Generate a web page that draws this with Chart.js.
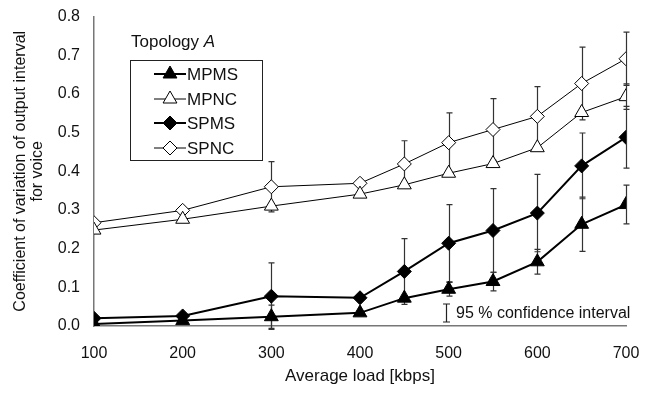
<!DOCTYPE html>
<html>
<head>
<meta charset="utf-8">
<script src="https://cdn.jsdelivr.net/npm/chart.js@4.4.0/dist/chart.umd.min.js"></script>
<style>
  html, body { margin: 0; padding: 0; background: #fff; }
  #wrap { width: 651px; height: 393px; }
</style>
</head>
<body>
<div id="wrap"><canvas id="chart" width="651" height="393"></canvas></div>
<script>
// Tải trung bình (kbps)
const loads = [100, 200, 300, 400, 450, 500, 550, 600, 650, 700];

// Hệ số biến thiên cho từng cấu hình
const mpms = [0.005, 0.014, 0.024, 0.034, 0.072, 0.095, 0.115, 0.166, 0.263, 0.314];
const mpnc = [0.248, 0.276, 0.310, 0.341, 0.365, 0.395, 0.420, 0.461, 0.552, 0.593];
const spms = [0.020, 0.026, 0.077, 0.073, 0.141, 0.214, 0.247, 0.292, 0.414, 0.488];
const spnc = [0.267, 0.299, 0.360, 0.369, 0.419, 0.474, 0.508, 0.542, 0.627, 0.691];

// Nửa khoảng tin cậy 95 %
const mpmsErr = [0, 0, 0.03, 0, 0, 0.018, 0.024, 0.032, 0.07, 0.05];
const mpncErr = [0, 0, 0, 0, 0, 0, 0, 0, 0, 0.033];
const spmsErr = [0, 0, 0.086, 0, 0.085, 0.10, 0.108, 0.10, 0.085, 0.08];
const spncErr = [0, 0, 0.065, 0, 0.06, 0.077, 0.08, 0.077, 0.094, 0.069];

const yTicks = [0, 0.1, 0.2, 0.3, 0.4, 0.5, 0.6, 0.7, 0.8];

const FONT = "'Liberation Sans', Arial, sans-serif";

function toPoints(values) {
    return loads.map((x, i) => ({ x: x, y: values[i] }));
}

// Vẽ thanh sai số trước khi vẽ các điểm
const errorBars = {
    id: 'errorBars',
    beforeDatasetsDraw(chart) {
        const ctx = chart.ctx;
        const xs = chart.scales.x, ys = chart.scales.y;
        ctx.save();
        ctx.strokeStyle = '#333';
        ctx.lineWidth = 1.2;
        chart.data.datasets.forEach(ds => {
            ds.errors.forEach((e, i) => {
                if (!e) return;
                const px = Math.round(xs.getPixelForValue(loads[i])) + 0.5;
                const top = ys.getPixelForValue(ds.data[i].y + e);
                const bot = ys.getPixelForValue(ds.data[i].y - e);
                ctx.beginPath();
                ctx.moveTo(px, top); ctx.lineTo(px, bot);
                ctx.moveTo(px - 3, top); ctx.lineTo(px + 3, top);
                ctx.moveTo(px - 3, bot); ctx.lineTo(px + 3, bot);
                ctx.stroke();
            });
        });
        ctx.restore();
    },
    afterDraw(chart) {
        const ctx = chart.ctx;
        ctx.save();
        // Tiêu đề "Topology A"
        ctx.fillStyle = '#111';
        ctx.textBaseline = 'middle';
        ctx.font = '17px ' + FONT;
        ctx.fillText('Topology ', 131, 42);
        const w = ctx.measureText('Topology ').width;
        ctx.font = 'italic 17px ' + FONT;
        ctx.fillText('A', 131 + w, 42);

        // Khung chú thích
        ctx.strokeStyle = '#222';
        ctx.lineWidth = 1;
        ctx.strokeRect(130.5, 60.5, 132, 100);
        ctx.font = '17px ' + FONT;
        const rows = [74, 99, 123, 148];
        chart.data.datasets.forEach((ds, i) => {
            const y = rows[i];
            ctx.strokeStyle = '#000';
            ctx.lineWidth = ds.borderWidth;
            ctx.beginPath();
            ctx.moveTo(154, y); ctx.lineTo(186, y);
            ctx.stroke();
            ctx.fillStyle = ds.pointBackgroundColor;
            ctx.strokeStyle = '#000';
            ctx.lineWidth = 1;
            Chart.helpers.drawPoint(ctx, {
                pointStyle: ds.pointStyle, radius: ds.pointRadius, borderWidth: 1, rotation: 0
            }, 170, y);
            ctx.fillStyle = '#111';
            ctx.fillText(ds.label, 187, y + 1);
        });

        // Chú thích khoảng tin cậy
        ctx.strokeStyle = '#222';
        ctx.lineWidth = 1.2;
        ctx.beginPath();
        ctx.moveTo(446.5, 304); ctx.lineTo(446.5, 322);
        ctx.moveTo(443, 304); ctx.lineTo(450, 304);
        ctx.moveTo(443, 322); ctx.lineTo(450, 322);
        ctx.stroke();
        ctx.font = '16px ' + FONT;
        ctx.fillStyle = '#111';
        ctx.fillText('95 % confidence interval', 456, 314);
        ctx.restore();
    }
};

function series(label, values, errors, style, filled, width, radius) {
    return {
        label: label,
        data: toPoints(values),
        errors: errors,
        borderColor: '#000',
        borderWidth: width,
        pointStyle: style,
        pointRadius: radius,
        pointBorderWidth: 1,
        pointBorderColor: '#000',
        pointBackgroundColor: filled ? '#000' : '#fff',
        tension: 0
    };
}

const ctx = document.getElementById('chart').getContext('2d');
new Chart(ctx, {
    type: 'line',
    data: {
        datasets: [
            series('MPMS', mpms, mpmsErr, 'triangle', true, 2, 8),
            series('MPNC', mpnc, mpncErr, 'triangle', false, 1, 8),
            series('SPMS', spms, spmsErr, 'rectRot', true, 2, 7),
            series('SPNC', spnc, spncErr, 'rectRot', false, 1, 7)
        ]
    },
    options: {
        responsive: false,
        animation: false,
        layout: { padding: { top: 13, right: 25, left: 0, bottom: 0 } },
        plugins: {
            legend: { display: false },
            tooltip: { enabled: false }
        },
        scales: {
            x: {
                type: 'linear',
                min: 100,
                max: 700,
                afterBuildTicks: s => { s.ticks = loads.filter(v => v % 100 === 0).map(v => ({ value: v })); },
                grid: { display: false, drawTicks: true, tickLength: 7, tickColor: '#666' },
                border: { color: '#777', width: 1.5 },
                ticks: { color: '#111', font: { family: FONT, size: 16 }, padding: 11, maxRotation: 0 },
                title: {
                    display: true, text: 'Average load [kbps]', color: '#111',
                    font: { family: FONT, size: 17 }, padding: { top: 0, bottom: 6 }
                },
                afterFit: s => { s.height = 67; }
            },
            y: {
                min: 0,
                max: 0.8,
                afterBuildTicks: s => { s.ticks = yTicks.map(v => ({ value: v })); },
                grid: { display: false, drawTicks: true, tickLength: 7, tickColor: '#666' },
                border: { color: '#777', width: 1.5 },
                ticks: {
                    color: '#111', font: { family: FONT, size: 16 }, padding: 7,
                    callback: v => v.toFixed(1)
                },
                title: {
                    display: true,
                    text: ['Coefficient of variation of output interval', 'for voice'],
                    color: '#111', font: { family: FONT, size: 16, lineHeight: 1.0625 },
                    padding: { top: 12, bottom: 0 }
                },
                afterFit: s => { s.width = 94; }
            }
        }
    },
    plugins: [errorBars]
});
</script>
</body>
</html>
